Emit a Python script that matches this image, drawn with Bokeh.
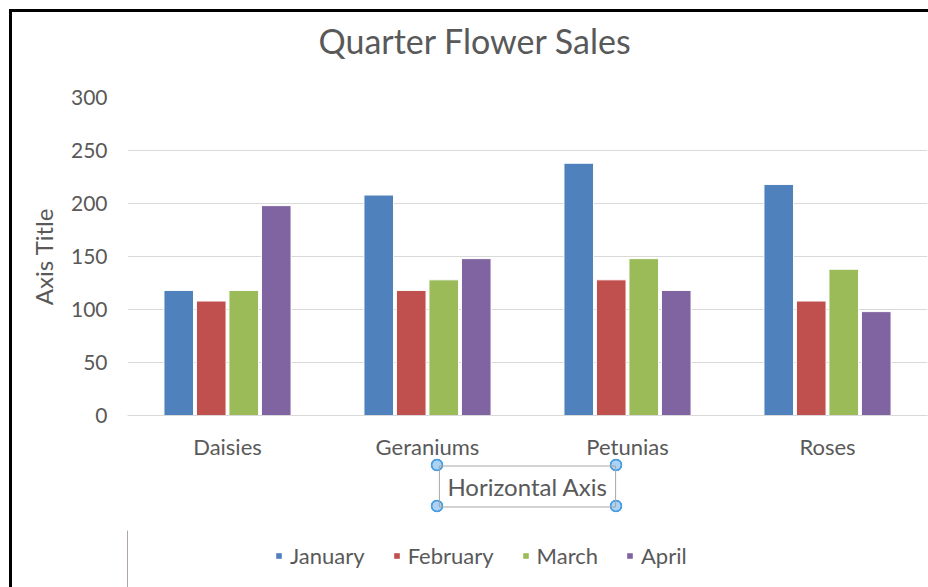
from bokeh.plotting import figure
from bokeh.models import (FactorRange, FixedTicker, Legend, LegendItem, Title,
                          ColumnDataSource)
from bokeh.layouts import column
from bokeh.transform import dodge
from bokeh.embed import file_html
from bokeh.resources import INLINE

# ---- data ----
categories = ["Daisies", "Geraniums", "Petunias", "Roses"]
series_names = ["January", "February", "March", "April"]
january = [118, 208, 238, 218]
february = [108, 118, 128, 108]
march = [118, 128, 148, 138]
april = [198, 148, 118, 98]
y_ticks = [0, 50, 100, 150, 200, 250, 300]
colors = ["#4f81bd", "#c0504d", "#9bbb59", "#8064a2"]

title_text = "Quarter Flower Sales"
y_title = "Axis Title"
x_title = "Horizontal Axis"

FONT = "Lato"
TXT = "#595959"

source = ColumnDataSource(dict(cat=categories, January=january, February=february,
                               March=march, April=april))

# selection handles drawn around the boxed axis title (decoration only)
handle_pts = [(425, 453), (604, 453), (425, 494), (604, 494)]
handles_css = ", ".join(
    f"radial-gradient(circle at {hx}px {hy}px, #acd2f5 0px, #acd2f5 4.2px, "
    f"#4a9de0 4.8px, #4a9de0 6px, rgba(255,255,255,0) 6.6px)"
    for hx, hy in handle_pts)

p = figure(x_range=FactorRange(*categories), y_range=(0, 300),
           frame_width=800, frame_height=318,
           output_backend="svg", toolbar_location=None,
           min_border_left=115, min_border_right=1, min_border_top=85,
           min_border_bottom=115, title=None)
p.styles = {"background-color": "white", "background-image": handles_css,
            "background-repeat": "no-repeat"}
p.outline_line_color = None
p.background_fill_color = "white"
p.border_fill_color = None

pitch = 0.1625
offsets = [-1.5 * pitch, -0.5 * pitch, 0.5 * pitch, 1.5 * pitch]
for name, off, col in zip(series_names, offsets, colors):
    p.vbar(x=dodge("cat", off, range=p.x_range), top=name, width=0.148,
           source=source, fill_color=col, line_color="white", line_width=1)

# axes
p.yaxis.ticker = FixedTicker(ticks=y_ticks)
p.yaxis.axis_line_color = None
p.yaxis.major_tick_line_color = None
p.yaxis.minor_tick_line_color = None
p.yaxis.major_label_standoff = 14
p.yaxis.major_label_text_font = FONT
p.yaxis.major_label_text_font_size = "21px"
p.yaxis.major_label_text_color = TXT
p.yaxis.axis_label = y_title
p.yaxis.axis_label_text_font = FONT
p.yaxis.axis_label_text_font_size = "24px"
p.yaxis.axis_label_text_font_style = "normal"
p.yaxis.axis_label_text_color = TXT
p.yaxis.axis_label_standoff = 10

p.xaxis.axis_line_color = "#d9d9d9"
p.xaxis.major_tick_line_color = None
p.xaxis.minor_tick_line_color = None
p.xaxis.major_label_standoff = 11
p.xaxis.major_label_text_font = FONT
p.xaxis.major_label_text_font_size = "22px"
p.xaxis.major_label_text_color = TXT

p.xgrid.grid_line_color = None
p.ygrid.grid_line_color = "#d9d9d9"
p.ygrid.grid_line_width = 1
p.ygrid.level = "underlay"

# chart title
p.add_layout(Title(text=title_text, align="left", offset=191, standoff=0,
                   padding=dict(left=0, right=0, top=4, bottom=37),
                   text_font=FONT, text_font_size="34px", text_font_style="normal",
                   text_color=TXT), "above")

# horizontal axis title, shown selected (boxed)
p.add_layout(Title(text=x_title, align="center", standoff=3,
                   text_font=FONT, text_font_size="24px", text_font_style="normal",
                   text_color=TXT, border_line_color="#a6a6a6", border_line_width=1,
                   background_fill_color=None,
                   padding=dict(left=8, right=8, top=6, bottom=6)), "below")

# legend strip underneath the chart (legend swatches use off-view proxy bars)
p2 = figure(width=916, height=57, x_range=(0, 1), y_range=(0, 1),
            x_axis_type=None, y_axis_type=None, min_border=0,
            output_backend="svg", toolbar_location=None)
p2.outline_line_color = None
p2.grid.visible = False
p2.background_fill_color = "white"
p2.border_fill_color = "white"
proxy_src = ColumnDataSource(dict(x=[-10.0], top=[1.0]))
proxies = [p2.vbar(x="x", top="top", width=0.1, source=proxy_src, fill_color=col,
                   line_color=None) for col in colors]
legend = Legend(items=[LegendItem(label=n, renderers=[r]) for n, r in zip(series_names, proxies)],
                orientation="horizontal", location=(148, 18),
                glyph_width=7, glyph_height=7, label_standoff=8, spacing=28,
                padding=0, margin=0, border_line_color=None, background_fill_alpha=0,
                label_text_font=FONT, label_text_font_size="22px", label_text_color=TXT,
                label_height=22)
p2.add_layout(legend)

layout = column(p, p2, spacing=0,
                styles={"border-left": "3px solid black", "border-top": "3px solid black",
                        "margin-left": "9px", "margin-top": "9px"})

open("out.html", "w").write(file_html(layout, INLINE))
